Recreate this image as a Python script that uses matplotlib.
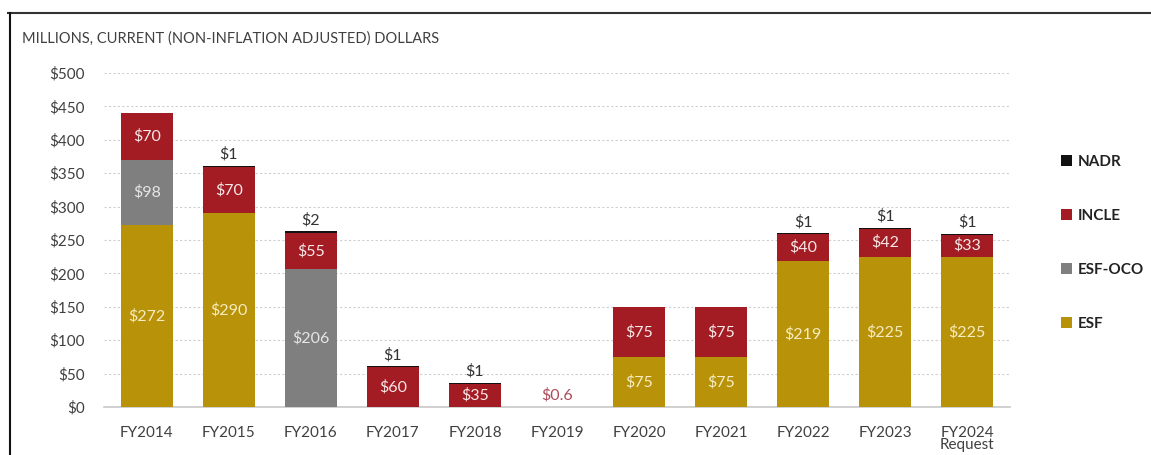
import matplotlib.pyplot as plt
from matplotlib.lines import Line2D
import numpy as np

years = ["FY2014", "FY2015", "FY2016", "FY2017", "FY2018", "FY2019",
         "FY2020", "FY2021", "FY2022", "FY2023", "FY2024\nRequest"]
esf = [272, 290, 0, 0, 0, 0, 75, 75, 219, 225, 225]
esf_oco = [98, 0, 206, 0, 0, 0, 0, 0, 0, 0, 0]
incle = [70, 70, 55, 60, 35, 0.6, 75, 75, 40, 42, 33]
nadr = [0, 1, 2, 1, 1, 0, 0, 0, 1, 1, 1]
yticks = [0, 50, 100, 150, 200, 250, 300, 350, 400, 450, 500]

plt.rcParams['font.family'] = ['Lato', 'DejaVu Sans']

C_ESF = '#B8930A'
C_OCO = '#7F7F7F'
C_INCLE = '#A31C24'
C_NADR = '#111111'

fig = plt.figure(figsize=(11.51, 4.55), dpi=100)
ax = fig.add_axes([0.0904, 0.1055, 0.7871, 0.7341])

x = np.arange(len(years))
w = 0.63
esf = np.array(esf, dtype=float)
esf_oco = np.array(esf_oco, dtype=float)
incle = np.array(incle, dtype=float)
nadr = np.array(nadr, dtype=float)

b1 = esf
b2 = b1 + esf_oco
b3 = b2 + incle
ax.bar(x, esf, w, color=C_ESF, label='ESF', zorder=3)
ax.bar(x, esf_oco, w, bottom=b1, color=C_OCO, label='ESF-OCO', zorder=3)
ax.bar(x, incle, w, bottom=b2, color=C_INCLE, label='INCLE', zorder=3)
ax.bar(x, nadr, w, bottom=b3, color=C_NADR, label='NADR', zorder=3)

# labels inside the segments
fs = 11.5
for i in range(len(years)):
    if esf[i] > 0:
        ax.text(x[i], esf[i] / 2, f"${esf[i]:.0f}", ha='center', va='center',
                color='#F6ECC0', fontsize=fs, zorder=4)
    if esf_oco[i] > 0:
        ax.text(x[i], b1[i] + esf_oco[i] / 2, f"${esf_oco[i]:.0f}", ha='center',
                va='center', color='#E6E6E6', fontsize=fs, zorder=4)
    if incle[i] >= 1:
        ax.text(x[i], b2[i] + incle[i] / 2, f"${incle[i]:.0f}", ha='center',
                va='center', color='#F8E8E8', fontsize=fs, zorder=4)
    elif incle[i] > 0:
        ax.annotate(f"${incle[i]:g}", (x[i], b3[i]), xytext=(0, 3),
                    textcoords='offset points', ha='center', va='bottom',
                    color='#B04A5A', fontsize=fs, zorder=4)
    if nadr[i] > 0:
        ax.annotate(f"${nadr[i]:.0f}", (x[i], b3[i] + nadr[i]), xytext=(0, 3),
                    textcoords='offset points', ha='center', va='bottom',
                    color='#333333', fontsize=fs, zorder=4)

ax.set_xlim(-0.52, 10.52)
ax.set_ylim(0, 500)
ax.set_yticks(yticks)
ax.set_yticklabels([f"${v}" for v in yticks])
ax.set_xticks(x)
ax.set_xticklabels(years, linespacing=0.8)
ax.tick_params(length=0, labelsize=11, colors='#404040')
ax.tick_params(axis='y', pad=14)
ax.tick_params(axis='x', pad=14)

ax.yaxis.grid(True, linestyle=(0, (2, 2)), color='#CFCFCF', linewidth=0.8, zorder=0)
for s in ['top', 'right', 'left']:
    ax.spines[s].set_visible(False)
ax.spines['bottom'].set_color('#C8C8C8')
ax.spines['bottom'].set_linewidth(1.2)

fig.text(0.019, 0.916, "MILLIONS, CURRENT (NON-INFLATION ADJUSTED) DOLLARS",
         fontsize=10.5, color='#404040', ha='left', va='center')

# legend on the right, NADR on top
h, l = ax.get_legend_handles_labels()
leg = fig.legend(h[::-1], l[::-1], loc='upper left', bbox_to_anchor=(0.91, 0.69),
                 frameon=False, fontsize=11, handlelength=0.7, handleheight=0.7,
                 handletextpad=0.4, labelspacing=2.62)
for t in leg.get_texts():
    t.set_fontweight('bold')
    t.set_color('#222222')

# outer frame lines
fig.add_artist(Line2D([0.007, 1.0], [0.9725, 0.9725], transform=fig.transFigure,
                      color='#333333', linewidth=1.5))
fig.add_artist(Line2D([0.0083, 0.0083], [0.0, 0.9725], transform=fig.transFigure,
                      color='#111111', linewidth=1.5))

plt.savefig("out.png", dpi=100)
plt.close(fig)
